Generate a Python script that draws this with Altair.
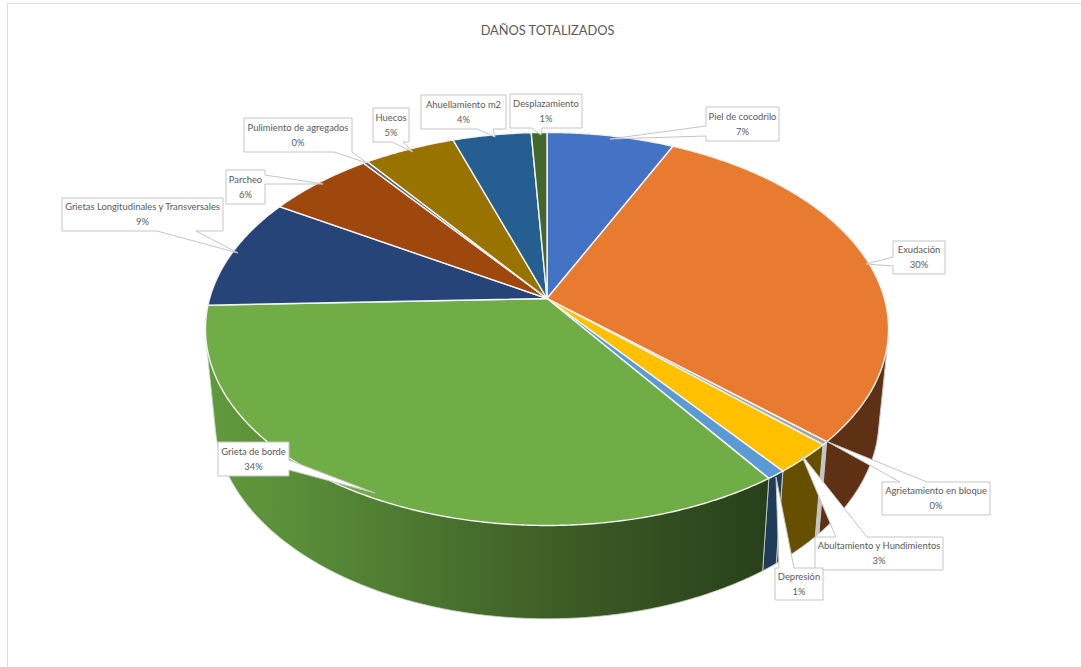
import math
import altair as alt
import pandas as pd

W, H = 1081, 667

# Shares of each damage type, clockwise from twelve o'clock
categories = [
    "Piel de cocodrilo", "Exudación", "Agrietamiento en bloque",
    "Abultamiento y Hundimientos", "Depresión", "Grieta de borde",
    "Grietas Longitudinales y Transversales", "Parcheo",
    "Pulimiento de agregados", "Huecos", "Ahuellamiento  m2", "Desplazamiento",
]
shares = [7.0, 29.67, 0.27, 2.55, 0.78, 34.18, 9.2, 5.9, 0.25, 5.03, 4.31, 0.86]
face_colors = [
    "#4472C4", "#E97B30", "#A5A5A5", "#FFC000", "#5B9BD5", "#70AD47",
    "#264478", "#9E480E", "#636363", "#997300", "#255E91", "#43682B",
]
# Side wall paint for the slices facing the viewer
wall_paint = {
    "Exudación": "#5F3114",
    "Agrietamiento en bloque": "#C4C4C4",
    "Abultamiento y Hundimientos": "#665000",
    "Depresión": "#1F3D58",
}
green_wall_stops = [
    (0.00, "#619A3D"), (0.15, "#5A8F39"), (0.35, "#4E7A31"),
    (0.55, "#426429"), (0.75, "#375222"), (1.00, "#28401A"),
]

# Perspective disc: top face and bottom rim of the drum
TILT = 0.155
TOP = dict(cx=547.0, cy=298.5, a=337.4, b=191.8)
BOTTOM = dict(cx=547.0, cy=388.0, a=328.0, b=195.0)
WALL_FROM, WALL_TO = 60.0, 268.5


def rim(deg, disc):
    t = math.radians(deg)
    s, c = math.sin(t), math.cos(t)
    k = 1 + TILT * c
    return disc["cx"] + disc["a"] * s / k, disc["cy"] - disc["b"] * c / k


def arc(start, end, disc):
    n = max(2, int(abs(end - start)) * 2)
    return [rim(start + (end - start) * i / n, disc) for i in range(n + 1)]


def hull(points):
    pts = sorted(set(points))
    def half(seq):
        out = []
        for p in seq:
            while len(out) > 1 and (out[-1][0] - out[-2][0]) * (p[1] - out[-2][1]) - (out[-1][1] - out[-2][1]) * (p[0] - out[-2][0]) <= 0:
                out.pop()
            out.append(p)
        return out[:-1]
    return half(pts) + half(pts[::-1])


X = alt.X("x:Q", scale=alt.Scale(domain=[0, W], range=[0, W], nice=False, zero=False), axis=None)
Y = alt.Y("y:Q", scale=alt.Scale(domain=[0, H], range=[0, H], nice=False, zero=False), axis=None)


def shape(points, fill, stroke, width=1.0, closed=True):
    pts = list(points) + ([points[0]] if closed else [])
    df = pd.DataFrame({"x": [p[0] for p in pts], "y": [p[1] for p in pts], "i": range(len(pts))})
    opts = dict(stroke=stroke, strokeWidth=width, interpolate="linear", strokeJoin="miter", clip=False)
    if fill is not None:
        opts["fill"] = fill
    return alt.Chart(df).mark_line(**opts).encode(x=X, y=Y, order=alt.Order("i:Q"))


total = sum(shares)
edges = [0.0]
for v in shares:
    edges.append(edges[-1] + v / total * 360.0)

layers = []

# Page frame
layers.append(shape([(7.5, H), (7.5, 3.5), (W, 3.5)], None, "#DDDDDD", 1.0, closed=False))

# Side walls
for name, start, end in zip(categories, edges[:-1], edges[1:]):
    lo, hi = max(start, WALL_FROM), min(end, WALL_TO)
    if hi <= lo:
        continue
    outline = hull(arc(lo, hi, TOP) + arc(lo, hi, BOTTOM))
    if name == "Grieta de borde":
        paint = alt.Gradient(
            gradient="linear", x1=0, x2=1, y1=0, y2=0,
            stops=[alt.GradientStop(offset=o, color=c) for o, c in green_wall_stops],
        )
        layers.append(shape(outline, paint, "#C9D3C2", 0.8))
    elif name in wall_paint:
        layers.append(shape(outline, wall_paint[name], "#C9C9C9", 1.0))

# Top face slices
for color, start, end in zip(face_colors, edges[:-1], edges[1:]):
    layers.append(shape([rim(0, {**TOP, "a": 0, "b": 0})] + arc(start, end, TOP), color, "#F4F4F4", 1.4))

# Callout boxes: left, top, right, bottom, pointer tip, pointer base side and span
callouts = {
    "Piel de cocodrilo": (706, 107, 779, 141, (610, 139), "left", 126, 136),
    "Exudación": (893, 241, 945, 274, (866, 264), "left", 257, 266),
    "Agrietamiento en bloque": (882, 482, 990, 515, (826, 441), "top", 900, 927),
    "Abultamiento y Hundimientos": (815, 537, 943, 570, (801, 454), "top", 836, 867),
    "Depresión": (775, 568, 823, 600, (776, 477), "top", 779, 794),
    "Grieta de borde": (218, 442, 289, 476, (375, 493), "right", 460, 470),
    "Grietas Longitudinales y Transversales": (62, 198, 223, 231, (238, 253), "bottom", 157, 196),
    "Parcheo": (226, 170, 265, 204, (323, 184), "right", 175, 184),
    "Pulimiento de agregados": (244, 118, 352, 152, (367, 163), "bottom", 334, 352),
    "Huecos": (373, 108, 409, 142, (413, 152), "bottom", 392, 403),
    "Ahuellamiento  m2": (421, 95, 506, 129, (495, 137), "bottom", 477, 493),
    "Desplazamiento": (510, 94, 582, 128, (541, 135), "bottom", 532, 542),
}


def callout_outline(l, t, r, b, tip, side, p, q):
    if side == "top":
        return [(l, t), (p, t), tip, (q, t), (r, t), (r, b), (l, b)]
    if side == "right":
        return [(l, t), (r, t), (r, p), tip, (r, q), (r, b), (l, b)]
    if side == "bottom":
        return [(l, t), (r, t), (r, b), (q, b), tip, (p, b), (l, b)]
    return [(l, t), (r, t), (r, b), (l, b), (l, q), tip, (l, p)]


rows = []
for name, share in zip(categories, shares):
    l, t, r, b, tip, side, p, q = callouts[name]
    layers.append(shape(callout_outline(l, t, r, b, tip, side, p, q), "#FFFFFF", "#C4C4C4", 1.0))
    mid = (l + r) / 2
    rows.append({"x": mid, "y": (t + b) / 2 - 7.5, "text": name})
    rows.append({"x": mid, "y": (t + b) / 2 + 7.5, "text": f"{round(share)}%"})

labels = alt.Chart(pd.DataFrame(rows)).mark_text(
    font="Lato", fontSize=9.4, color="#595959", align="center", baseline="middle"
).encode(x=X, y=Y, text="text:N")
layers.append(labels)

title = alt.Chart(pd.DataFrame({"x": [547.5], "y": [31.0], "text": ["DAÑOS TOTALIZADOS"]})).mark_text(
    font="Lato", fontSize=12.8, color="#595959", align="center", baseline="middle"
).encode(x=X, y=Y, text="text:N")
layers.append(title)

chart = alt.layer(*layers).properties(
    width=W, height=H, padding=0, autosize=alt.AutoSizeParams(type="none"), background="#FFFFFF"
).configure_view(stroke=None)

chart.save("out.html", embed_options={"renderer": "svg", "actions": False})
